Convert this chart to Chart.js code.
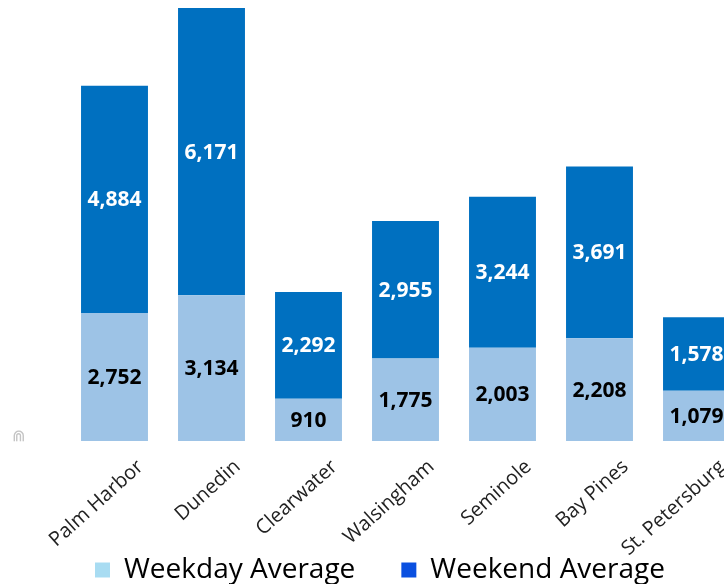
<!DOCTYPE html>
<html>
<head>
<meta charset="utf-8">
<script src="https://cdn.jsdelivr.net/npm/chart.js@4"></script>
<style>
  html, body { margin: 0; padding: 0; background: #fff; overflow: hidden; width: 724px; height: 584px; }
  #wrap { position: absolute; left: 0; top: 0; width: 760px; height: 584px; }
  #mark { position: absolute; left: 12px; top: 426px; font: 16px "DejaVu Sans"; color: #c4c4c4; }
</style>
</head>
<body>
<div id="wrap"><canvas id="chart" width="760" height="584"></canvas></div>
<span id="mark">⋒</span>
<script>
// Weekday vs weekend averages by location
const locations = ['Palm Harbor', 'Dunedin', 'Clearwater', 'Walsingham', 'Seminole', 'Bay Pines', 'St. Petersburg'];
const weekdayAvg = [2752, 3134, 910, 1775, 2003, 2208, 1079];
const weekendAvg = [4884, 6171, 2292, 2955, 3244, 3691, 1578];

const barColors = ['#9dc3e6', '#0070c0'];
const legendColors = ['#a8dcf2', '#0a50e0'];
const labelColors = ['#000000', '#ffffff'];

// draws the value in the middle of each stacked segment
const segmentLabels = {
  id: 'segmentLabels',
  afterDatasetsDraw(chart) {
    const ctx = chart.ctx;
    ctx.save();
    ctx.font = 'bold 21px "Open Sans"';
    ctx.textAlign = 'center';
    ctx.textBaseline = 'middle';
    chart.data.datasets.forEach((ds, i) => {
      const meta = chart.getDatasetMeta(i);
      meta.data.forEach((bar, j) => {
        ctx.fillStyle = labelColors[i];
        ctx.fillText(ds.data[j].toLocaleString('en-US'), bar.x, (bar.y + bar.base) / 2 + 1);
      });
    });
    ctx.restore();
  }
};

// the category labels run down into the legend strip, so let the x axis clip region reach the canvas bottom
const labelOverflow = {
  id: 'labelOverflow',
  afterLayout(chart) {
    chart.scales.x.bottom = chart.height;
  }
};

// invisible axes only used to reserve side space, so the legend stays centred on the canvas
const spacer = width => ({
  display: true,
  grid: { display: false },
  border: { display: false },
  ticks: { display: false },
  afterFit: scale => { scale.width = width; }
});

new Chart(document.getElementById('chart'), {
  type: 'bar',
  data: {
    labels: locations,
    datasets: [
      { label: 'Weekday Average', data: weekdayAvg, backgroundColor: barColors[0] },
      { label: 'Weekend Average', data: weekendAvg, backgroundColor: barColors[1] }
    ]
  },
  options: {
    responsive: false,
    animation: false,
    layout: { padding: { left: 0, right: 0, top: 8, bottom: -10 } },
    datasets: { bar: { barPercentage: 0.69, categoryPercentage: 1 } },
    plugins: {
      tooltip: { enabled: false },
      legend: {
        position: 'bottom',
        labels: {
          boxWidth: 15,
          boxHeight: 15,
          padding: 46,
          color: '#333',
          font: { family: '"Open Sans"', size: 28 },
          generateLabels: chart => chart.data.datasets.map((d, i) => ({
            text: d.label,
            fillStyle: legendColors[i],
            strokeStyle: legendColors[i],
            lineWidth: 0,
            datasetIndex: i,
            hidden: false
          }))
        }
      }
    },
    scales: {
      x: {
        stacked: true,
        grid: { display: false, drawTicks: false },
        border: { display: false },
        afterFit: scale => { scale.height = 69; },
        ticks: {
          maxRotation: 42,
          minRotation: 42,
          padding: 14,
          labelOffset: 26,
          color: '#222',
          font: { family: '"Open Sans"', size: 20 }
        }
      },
      y: {
        stacked: true,
        min: 0,
        max: 9305,
        ...spacer(66)
      },
      yRight: {
        position: 'right',
        ...spacer(15)
      }
    }
  },
  plugins: [segmentLabels, labelOverflow]
});
</script>
</body>
</html>
